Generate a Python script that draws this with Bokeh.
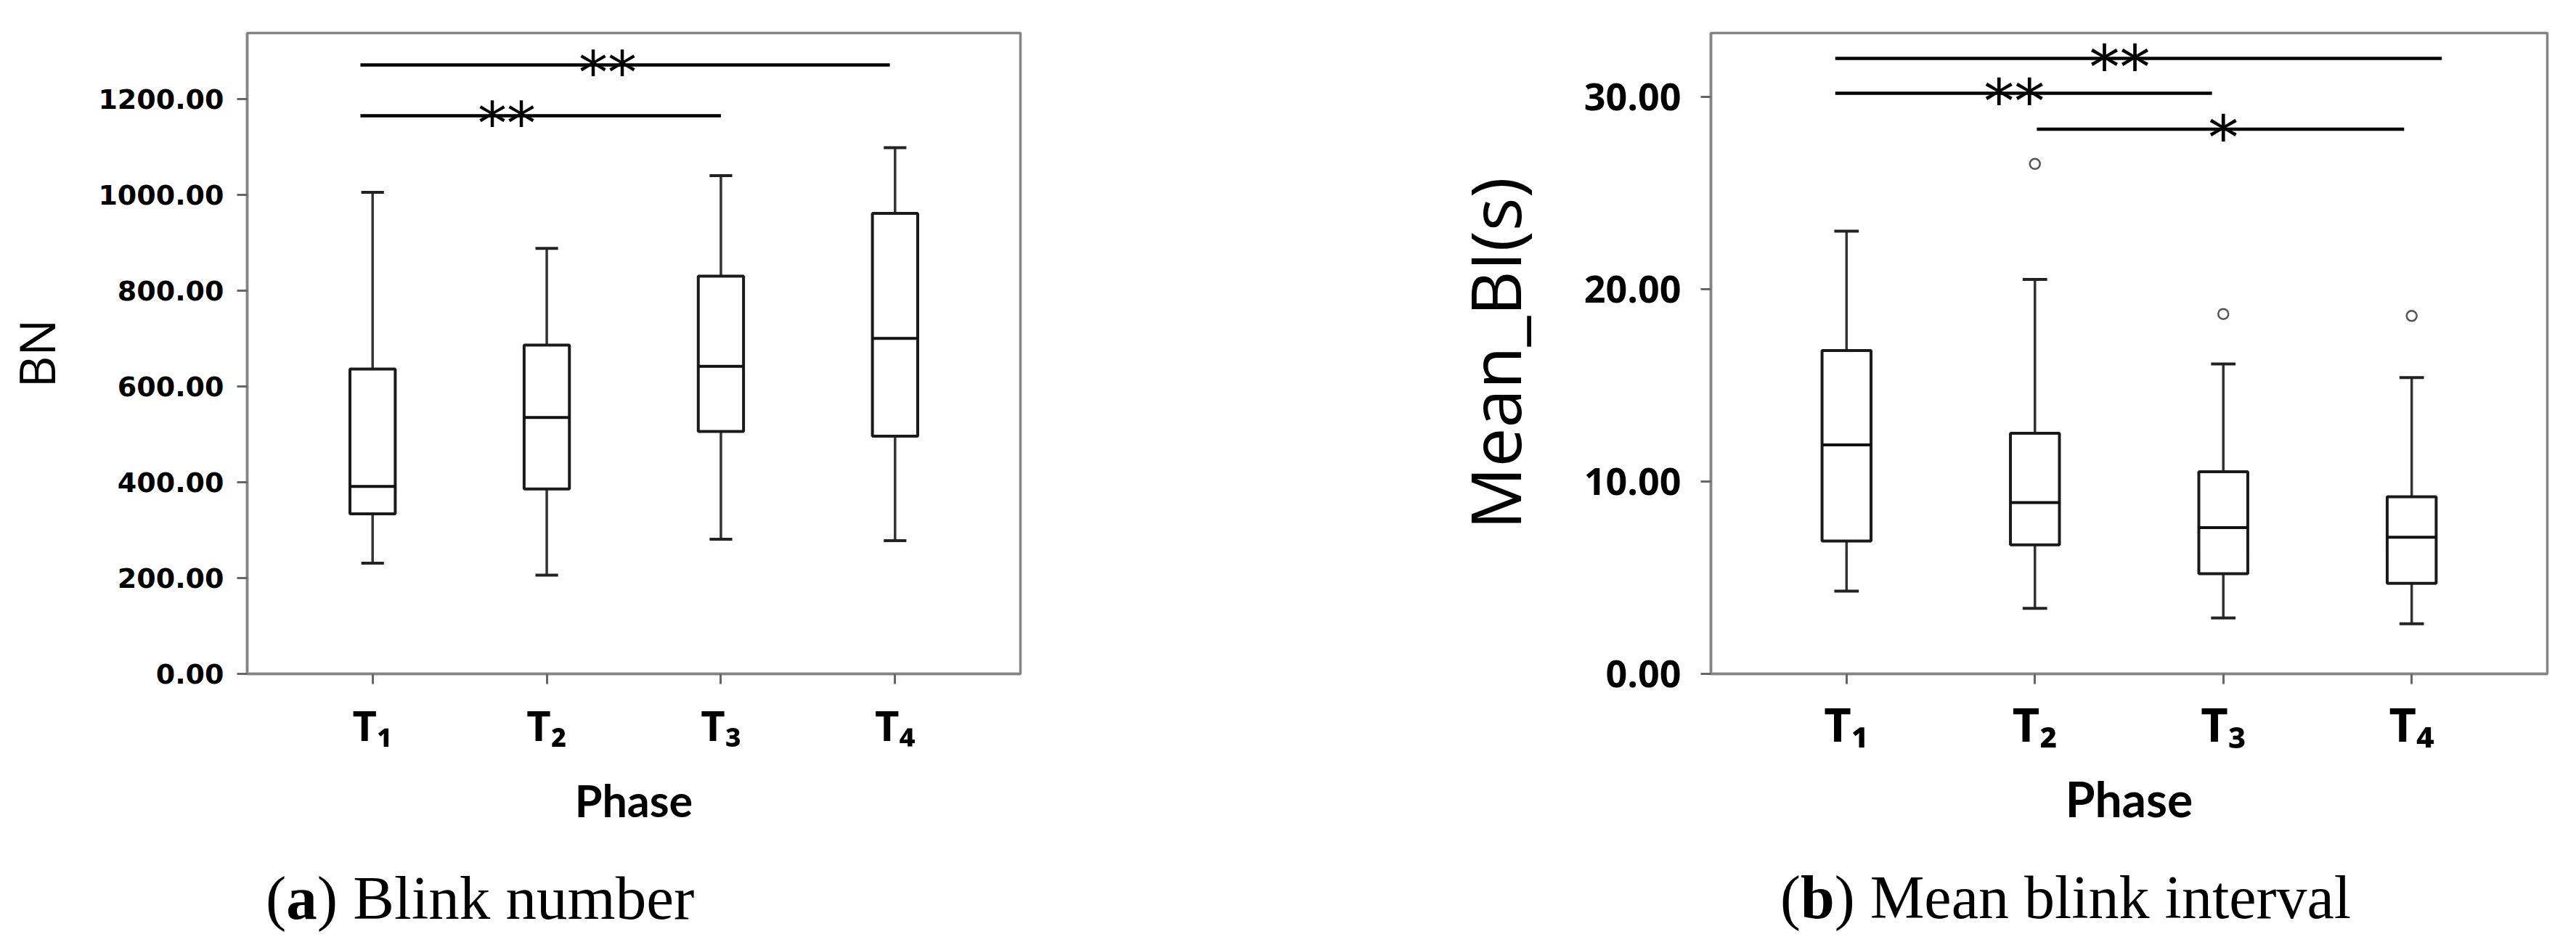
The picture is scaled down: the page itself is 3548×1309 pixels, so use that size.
from bokeh.plotting import figure
from bokeh.layouts import column, row
from bokeh.models import Range1d, FixedTicker, NumeralTickFormatter, Div
from bokeh.core.properties import value
from bokeh.embed import file_html
from bokeh.resources import INLINE

# ---------------- data ----------------
phase_labels = ["T\u2081", "T\u2082", "T\u2083", "T\u2084"]
phase_pos = [1, 2, 3, 4]

# (a) Blink number (BN)
bn_max = [1005, 888, 1040, 1098]
bn_q3 = [636, 686, 830, 961]
bn_med = [391, 535, 642, 700]
bn_q1 = [334, 386, 506, 496]
bn_min = [231, 206, 281, 278]
bn_ticks = [0, 200, 400, 600, 800, 1000, 1200]
bn_top = 1337.5

bn_sig_x0 = [0.93, 0.93]
bn_sig_x1 = [3.97, 3.0]
bn_sig_y = [1271, 1165]
bn_sig_text = ["**", "**"]
bn_sig_tx = [2.35, 1.77]

# (b) Mean blink interval (s)
bi_max = [23.0, 20.5, 16.1, 15.4]
bi_q3 = [16.8, 12.5, 10.5, 9.2]
bi_med = [11.9, 8.9, 7.6, 7.1]
bi_q1 = [6.9, 6.7, 5.2, 4.7]
bi_min = [4.3, 3.4, 2.9, 2.6]
bi_out_x = [2, 3, 4]
bi_out_y = [26.5, 18.7, 18.6]
bi_ticks = [0, 10, 20, 30]
bi_top = 33.3

bi_sig_x0 = [0.94, 0.94, 2.01]
bi_sig_x1 = [4.16, 2.94, 3.96]
bi_sig_y = [31.98, 30.17, 28.3]
bi_sig_text = ["**", "**", "*"]
bi_sig_tx = [2.45, 1.89, 3.0]

BOX_W = 0.26
CAP_W = 0.13
FRAME_GREY = "#858585"


def make_panel(width, height, borders, ytop, yticks, ylabel, vmax, vq3, vmed, vq1, vmin,
               sx0, sx1, sy, stext, stx, yfont, yfs, xfs, phase_fs, ylab_fs, ylab_standoff,
               ytick_standoff, xtick_standoff, xlab_standoff, star_fs, out_x=None, out_y=None):
    bl, br, bt, bb = borders
    p = figure(width=width, height=height, output_backend="svg", toolbar_location=None,
               x_range=Range1d(0.28, 4.72), y_range=Range1d(0, ytop),
               min_border_left=bl, min_border_right=br, min_border_top=bt, min_border_bottom=bb)
    p.xgrid.visible = False
    p.ygrid.visible = False
    p.background_fill_color = "white"
    p.border_fill_color = "white"
    p.outline_line_color = FRAME_GREY
    p.outline_line_width = 3.5

    xa = p.xaxis[0]
    xa.ticker = FixedTicker(ticks=phase_pos)
    xa.major_label_overrides = {pos: lab for pos, lab in zip(phase_pos, phase_labels)}
    xa.axis_label = "Phase"
    xa.axis_label_text_font = "Lato"
    xa.axis_label_text_font_style = "bold"
    xa.axis_label_text_font_size = f"{phase_fs}px"
    xa.axis_label_text_color = "black"
    xa.axis_label_standoff = xlab_standoff
    xa.major_label_text_font = "Noto Sans"
    xa.major_label_text_font_style = "bold"
    xa.major_label_text_font_size = f"{xfs}px"
    xa.major_label_text_color = "black"
    xa.major_label_standoff = xtick_standoff
    xa.minor_tick_line_color = None
    xa.major_tick_in = 0
    xa.major_tick_out = 14
    xa.major_tick_line_width = 3
    xa.major_tick_line_color = "#666666"
    xa.axis_line_color = FRAME_GREY
    xa.axis_line_width = 3.5

    ya = p.yaxis[0]
    ya.ticker = FixedTicker(ticks=yticks)
    ya.formatter = NumeralTickFormatter(format="0.00")
    ya.axis_label = ylabel
    ya.axis_label_text_font = "Open Sans"
    ya.axis_label_text_font_style = "normal"
    ya.axis_label_text_font_size = f"{ylab_fs}px"
    ya.axis_label_text_color = "black"
    ya.axis_label_standoff = ylab_standoff
    ya.major_label_text_font = yfont
    ya.major_label_text_font_style = "bold"
    ya.major_label_text_font_size = f"{yfs}px"
    ya.major_label_text_color = "black"
    ya.major_label_standoff = ytick_standoff
    ya.minor_tick_line_color = None
    ya.major_tick_in = 0
    ya.major_tick_out = 14
    ya.major_tick_line_width = 3
    ya.major_tick_line_color = "#666666"
    ya.axis_line_color = FRAME_GREY
    ya.axis_line_width = 3.5

    # whiskers
    p.segment(x0=phase_pos, y0=vq3, x1=phase_pos, y1=vmax, line_color="#333333", line_width=3.5)
    p.segment(x0=phase_pos, y0=vq1, x1=phase_pos, y1=vmin, line_color="#333333", line_width=3.5)
    cap_l = [x - CAP_W / 2 for x in phase_pos]
    cap_r = [x + CAP_W / 2 for x in phase_pos]
    p.segment(x0=cap_l, y0=vmax, x1=cap_r, y1=vmax, line_color="#222222", line_width=4)
    p.segment(x0=cap_l, y0=vmin, x1=cap_r, y1=vmin, line_color="#222222", line_width=4)
    # boxes
    p.vbar(x=phase_pos, width=BOX_W, bottom=vq1, top=vq3, fill_color="white",
           line_color="#1a1a1a", line_width=4)
    box_l = [x - BOX_W / 2 for x in phase_pos]
    box_r = [x + BOX_W / 2 for x in phase_pos]
    p.segment(x0=box_l, y0=vmed, x1=box_r, y1=vmed, line_color="#111111", line_width=4)
    # outliers
    if out_x is not None:
        p.scatter(x=out_x, y=out_y, marker="circle", size=14, fill_color="white",
                  line_color="#555555", line_width=2.5)
    # significance bars
    p.segment(x0=sx0, y0=sy, x1=sx1, y1=sy, line_color="black", line_width=4.5)
    p.text(x=stx, y=sy, text=stext, text_font=value("DejaVu Sans"),
           text_font_size=f"{star_fs}px", text_align="center", text_baseline="alphabetic",
           y_offset=round(0.14 * star_fs), text_color="black")
    return p


p1 = make_panel(1600, 1200, (331, 195, 45, 272), bn_top, bn_ticks, "BN",
                bn_max, bn_q3, bn_med, bn_q1, bn_min,
                bn_sig_x0, bn_sig_x1, bn_sig_y, bn_sig_text, bn_sig_tx,
                yfont="DejaVu Sans", yfs=38, xfs=58, phase_fs=61, ylab_fs=68, ylab_standoff=36,
                ytick_standoff=18, xtick_standoff=16, xlab_standoff=25, star_fs=80)

p2 = make_panel(1932, 1200, (756, 24, 17, 263), bi_top, bi_ticks, "Mean_BI(s)",
                bi_max, bi_q3, bi_med, bi_q1, bi_min,
                bi_sig_x0, bi_sig_x1, bi_sig_y, bi_sig_text, bi_sig_tx,
                yfont="Open Sans", yfs=52, xfs=65, phase_fs=66, ylab_fs=96, ylab_standoff=56,
                ytick_standoff=27, xtick_standoff=10, xlab_standoff=17, star_fs=84,
                out_x=bi_out_x, out_y=bi_out_y)

caption_a = "(<b>a</b>) Blink number"
caption_b = "(<b>b</b>) Mean blink interval"
cap_html = (
    '<div style="position:relative;width:3532px;height:90px;font-family:\'Liberation Serif\';'
    'line-height:1;color:black;">'
    f'<div style="position:absolute;left:361px;top:-10px;white-space:nowrap;font-size:85px;">{caption_a}</div>'
    f'<div style="position:absolute;left:2447px;top:-10px;white-space:nowrap;font-size:84px;">{caption_b}</div>'
    '</div>'
)
captions = Div(text=cap_html, width=3532, height=90)

layout = column(row(p1, p2), captions)

open("out.html", "w").write(file_html(layout, INLINE))
